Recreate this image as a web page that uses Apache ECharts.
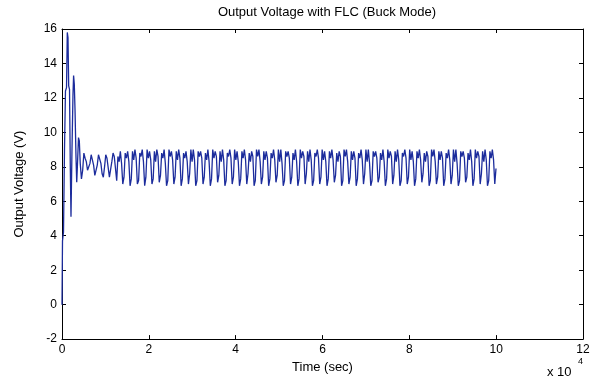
<!DOCTYPE html>
<html>
<head>
<meta charset="utf-8">
<script src="https://cdn.jsdelivr.net/npm/echarts@6/dist/echarts.min.js"></script>
<style>
  html, body { margin: 0; padding: 0; background: #fff; }
  #container { width: 597px; height: 379px; }
</style>
</head>
<body>
<div id="container"></div>
<script>
// start-up transient, [time, volts]
var transient = [
    [0, 0], [115, 3.7], [345, 4.2], [575, 9.0], [800, 12.4], [1040, 12.6],
    [1220, 15.8], [1380, 15.5], [1540, 12.7], [1730, 12.5], [1910, 8.0],
    [2070, 5.1], [2300, 9.0], [2530, 12.2], [2670, 13.3], [2830, 12.8],
    [3000, 11.3], [3230, 8.5], [3390, 7.1], [3570, 8.2], [3800, 9.7],
    [3990, 9.5], [4200, 8.2]
];

// steady ripple, one sample every 280 s from t = 4480
var steadyStart = 4480;
var steadyStep = 280;
var steadyValues = [
    7.3, 7.8, 8.8, 8.5, 8.3, 7.8,
    7.7, 8.2, 8.7, 8.4, 8.1, 7.5,
    7.5, 8.1, 8.7, 8.6, 8.2, 7.6,
    7.4, 8.0, 8.7, 8.5, 8.6, 7.4,
    7.3, 8.3, 8.8, 8.6, 8.7, 7.2,
    8.6, 8.3, 8.9, 8.2, 7.0, 7.4,
    8.8, 8.5, 8.9, 8.3, 6.9, 7.3,
    8.9, 8.4, 9.0, 8.5, 7.0, 7.2,
    8.8, 8.6, 9.0, 8.3, 6.9, 7.4,
    9.0, 8.5, 8.9, 8.4, 7.0, 7.3,
    8.9, 8.3, 9.0, 8.6, 7.1, 7.5,
    8.8, 8.5, 9.0, 8.2, 6.9, 7.2,
    9.0, 8.6, 8.9, 8.4, 7.0, 7.4,
    8.9, 8.4, 9.0, 8.5, 6.9, 7.3,
    8.8, 8.5, 8.9, 8.3, 7.0, 7.6,
    9.0, 8.3, 9.0, 8.4, 6.9, 7.2,
    8.9, 8.6, 8.9, 8.5, 7.0, 7.4,
    8.8, 8.4, 9.0, 8.3, 6.9, 7.3,
    9.0, 8.5, 8.9, 8.6, 7.1, 7.5,
    8.9, 8.3, 9.0, 8.4, 6.9, 7.2,
    8.8, 8.6, 9.0, 8.5, 7.0, 7.4,
    9.0, 8.4, 8.9, 8.3, 6.9, 7.3,
    8.9, 8.5, 9.0, 8.4, 7.0, 7.6,
    8.8, 8.3, 8.9, 8.6, 6.9, 7.2,
    9.0, 8.6, 9.0, 8.3, 7.0, 7.4,
    8.9, 8.4, 8.9, 8.5, 6.9, 7.3,
    8.8, 8.5, 9.0, 8.4, 7.1, 7.5,
    9.0, 8.3, 9.0, 8.2, 6.9, 7.2,
    8.9, 8.6, 8.9, 8.5, 7.0, 7.4,
    8.8, 8.4, 9.0, 8.3, 6.9, 7.3,
    9.0, 8.5, 8.9, 8.6, 7.0, 7.6,
    8.9, 8.3, 9.0, 8.4, 6.9, 7.2,
    8.8, 8.6, 9.0, 8.5, 7.0, 7.4,
    9.0, 8.4, 8.9, 8.3, 6.9, 7.3,
    8.9, 8.5, 9.0, 8.4, 7.1, 7.5,
    8.8, 8.3, 8.9, 8.6, 6.9, 7.2,
    9.0, 8.6, 9.0, 8.3, 7.0, 7.4,
    8.9, 8.4, 8.9, 8.5, 6.9, 7.3,
    8.8, 8.5, 9.0, 8.4, 7.0, 7.6,
    9.0, 8.3, 9.0, 8.2, 6.9, 7.2,
    8.9, 8.6, 8.9, 8.5, 7.1, 7.4,
    8.8, 8.4, 9.0, 8.3, 6.9, 7.3,
    9.0, 8.5, 8.9, 8.6, 7.0, 7.5,
    8.9, 8.3, 9.0, 8.4, 6.9, 7.2,
    8.8, 8.6, 9.0, 8.5, 7.0, 7.4,
    9.0, 8.4, 8.9, 8.3, 6.9, 7.3,
    8.9, 8.5, 9.0, 8.4, 7.1, 7.6,
    8.8, 8.3, 8.9, 8.6, 6.9, 7.2,
    9.0, 8.6, 9.0, 8.3, 7.0, 7.4,
    8.9, 8.4, 8.9, 8.5, 6.9, 7.3,
    8.8, 8.5, 9.0, 8.4, 7.0, 7.5,
    9.0, 8.3, 9.0, 8.2, 6.9, 7.2,
    8.9, 8.6, 8.9, 8.5, 7.1, 7.4,
    8.8, 8.4, 9.0, 8.3, 6.9, 7.3,
    9.0, 8.5, 8.9, 8.6, 7.0, 7.6,
    8.9, 8.3, 9.0, 8.4, 6.9, 7.2,
    8.9, 8.5, 9.0, 8.4, 7.0, 7.9
];

var xTicks = [0, 2, 4, 6, 8, 10, 12];      // x 10^4
var yTicks = [-2, 0, 2, 4, 6, 8, 10, 12, 14, 16];

var points = transient.slice();
for (var i = 0; i < steadyValues.length; i++) {
    points.push([steadyStart + i * steadyStep, steadyValues[i]]);
}

var font = 'Liberation Sans, Arial, sans-serif';
var black = '#000';

function xAxisOf(pos, showLabel) {
    return {
        type: 'value',
        position: pos,
        min: xTicks[0] * 10000,
        max: xTicks[xTicks.length - 1] * 10000,
        interval: 20000,
        axisLine: { show: true, onZero: false, lineStyle: { color: black, width: 1 } },
        axisTick: { show: true, inside: true, length: 4, lineStyle: { color: black } },
        splitLine: { show: false },
        axisLabel: {
            show: showLabel,
            color: black,
            fontFamily: font,
            fontSize: 12,
            margin: 5,
            formatter: function (v) { return String(v / 10000); }
        }
    };
}

function yAxisOf(pos, showLabel) {
    return {
        type: 'value',
        position: pos,
        min: yTicks[0],
        max: yTicks[yTicks.length - 1],
        interval: 2,
        axisLine: { show: true, onZero: false, lineStyle: { color: black, width: 1 } },
        axisTick: { show: true, inside: true, length: 4, lineStyle: { color: black } },
        splitLine: { show: false },
        axisLabel: { show: showLabel, color: black, fontFamily: font, fontSize: 12, margin: 5 }
    };
}

var myChart = echarts.init(document.getElementById('container'));
var xBottom = xAxisOf('bottom', true);
xBottom.name = 'Time (sec)';
xBottom.nameLocation = 'middle';
xBottom.nameGap = 19;
xBottom.nameTextStyle = { color: black, fontFamily: font, fontSize: 13 };
var yLeft = yAxisOf('left', true);
yLeft.name = 'Output Voltage (V)';
yLeft.nameLocation = 'middle';
yLeft.nameGap = 36;
yLeft.nameTextStyle = { color: black, fontFamily: font, fontSize: 13 };

var option = {
    animation: false,
    backgroundColor: '#fff',
    title: {
        text: 'Output Voltage with FLC (Buck Mode)',
        left: 322,
        top: 1,
        textAlign: 'center',
        textStyle: { color: black, fontFamily: font, fontSize: 13, fontWeight: 'normal' }
    },
    grid: { left: 62, right: 14, top: 29, bottom: 37, containLabel: false },
    xAxis: [xBottom, xAxisOf('top', false)],
    yAxis: [yLeft, yAxisOf('right', false)],
    graphic: [
        { type: 'text', left: 547, top: 366, style: { text: 'x 10', fill: black, font: '13px ' + font } },
        { type: 'text', left: 578, top: 357, style: { text: '4', fill: black, font: '9px ' + font } }
    ],
    series: [
        {
            name: 'Output Voltage',
            type: 'line',
            xAxisIndex: 0,
            yAxisIndex: 0,
            showSymbol: false,
            lineStyle: { color: '#1c2c9c', width: 1.3 },
            data: points
        }
    ]
};
myChart.setOption(option);
</script>
</body>
</html>
